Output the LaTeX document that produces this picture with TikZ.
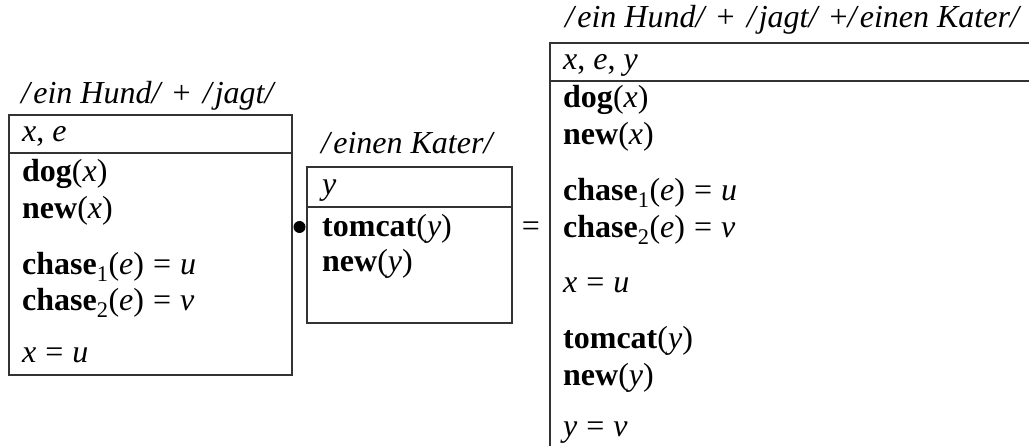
\documentclass[tikz,border=0pt]{standalone}
\usepackage{fontspec}
\setmainfont{Liberation Serif}
\newcommand\sep[1]{\hspace{0.28em}#1\hspace{0.28em}}
\newcommand\lplus{\hspace{0.38em}{\upshape+}\hspace{0.38em}}
\newcommand\ls{\hspace{0.1em}}
\begin{document}
\begin{tikzpicture}[x=1pt,y=-1pt,
  txt/.style={anchor=base west, inner sep=0pt, font=\fontsize{32}{38}\selectfont},
  lbl/.style={anchor=base west, inner sep=0pt, font=\fontsize{32}{38}\selectfont\itshape},
  boxline/.style={draw=black!80, line width=1.3pt},
  op/.style={inner sep=0pt, font=\fontsize{32}{38}\selectfont},
  dotop/.style={circle, fill=black, inner sep=0pt, minimum size=12pt}]
\useasboundingbox (0,0) rectangle (1029,446);
% ---------- left box ----------
\node[lbl] (l1) at (21,104) {/\ls ein Hund/\lplus/\ls jagt/};
\draw[boxline] (9,115) rectangle (292,375);
\draw[boxline] (9,153) -- (292,153);
\node[txt] (lh) at (22,142) {\textit{x}, \textit{e}};
\node[txt] (la) at (22,182) {\textbf{dog}(\textit{x})};
\node[txt] (lb) at (22,219) {\textbf{new}(\textit{x})};
\node[txt] (lc) at (22,275) {\textbf{chase}\textsubscript{1}(\textit{e})\sep{=}\textit{u}};
\node[txt] (ld) at (22,311) {\textbf{chase}\textsubscript{2}(\textit{e})\sep{=}\textit{v}};
\node[txt] (le) at (22,363) {\textit{x}\sep{=}\textit{u}};
% ---------- operator ----------
\node[dotop] (dot) at (299.5,227) {};
% ---------- middle box ----------
\node[lbl] (m1) at (321,154) {/\ls einen Kater/};
\draw[boxline] (307,167) rectangle (512,323);
\draw[boxline] (307,207) -- (512,207);
\node[txt] (mh) at (322,195) {\textit{y}};
\node[txt] (ma) at (322,237) {\textbf{tomcat}(\textit{y})};
\node[txt] (mb) at (322,272) {\textbf{new}(\textit{y})};
% ---------- equals ----------
\node[op] (eq) at (531,229) {=};
% ---------- right box ----------
\node[lbl] (r1) at (565,28) {/\ls ein Hund/\lplus/\ls jagt/\hspace{0.38em}{\upshape+}/\ls einen Kater/};
\draw[boxline] (1031,43) -- (550,43) -- (550,448);
\draw[boxline] (550,81) -- (1031,81);
\node[txt] (rh) at (563,70) {\textit{x}, \textit{e}, \textit{y}};
\node[txt] (ra) at (563,108) {\textbf{dog}(\textit{x})};
\node[txt] (rb) at (563,145) {\textbf{new}(\textit{x})};
\node[txt] (rc) at (563,201) {\textbf{chase}\textsubscript{1}(\textit{e})\sep{=}\textit{u}};
\node[txt] (rd) at (563,238) {\textbf{chase}\textsubscript{2}(\textit{e})\sep{=}\textit{v}};
\node[txt] (re) at (563,293) {\textit{x}\sep{=}\textit{u}};
\node[txt] (rf) at (563,349) {\textbf{tomcat}(\textit{y})};
\node[txt] (rg) at (563,386) {\textbf{new}(\textit{y})};
\node[txt] (rk) at (563,437) {\textit{y}\sep{=}\textit{v}};
\end{tikzpicture}
\end{document}
